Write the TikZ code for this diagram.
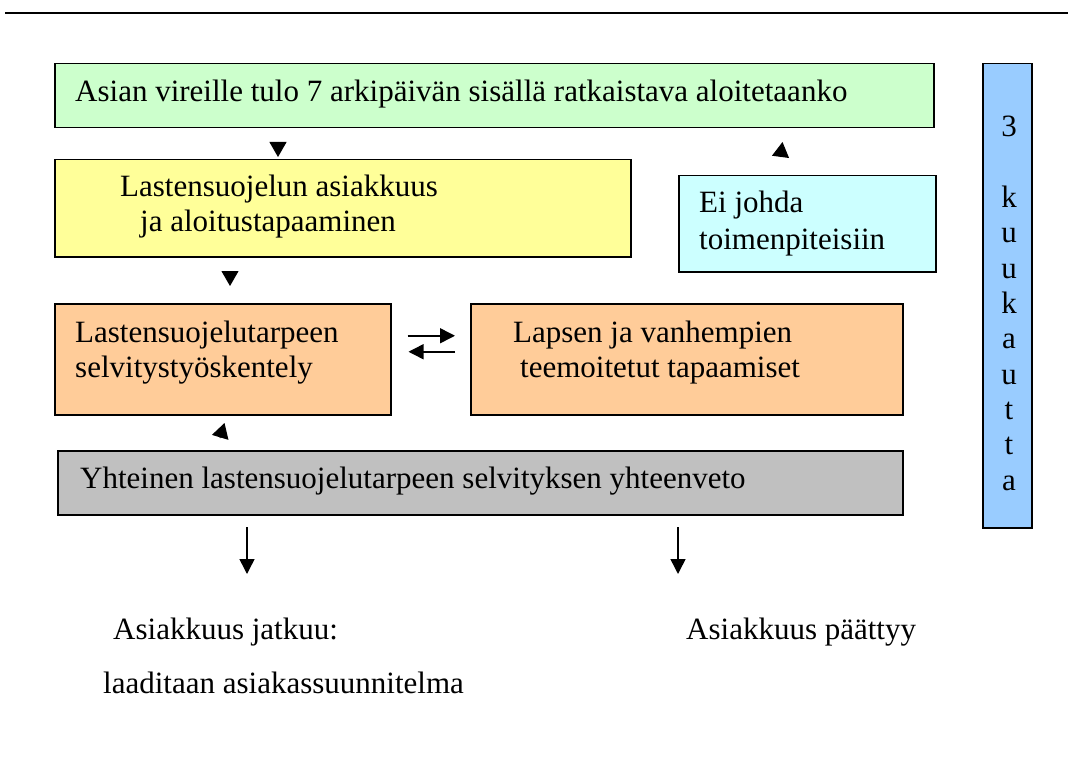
\documentclass[tikz,border=0pt]{standalone}
\usepackage{fontspec}
\setmainfont{Liberation Serif}
\usetikzlibrary{arrows.meta}
\definecolor{boxgreen}{HTML}{CCFFCC}
\definecolor{boxyellow}{HTML}{FFFF99}
\definecolor{boxcyan}{HTML}{CCFFFF}
\definecolor{boxorange}{HTML}{FFCC99}
\definecolor{boxgray}{HTML}{C0C0C0}
\definecolor{boxblue}{HTML}{99CCFF}
\tikzset{
  box/.style={draw, line width=1.5pt, anchor=north west, inner sep=0pt},
  txt/.style={anchor=base west, inner sep=0pt, font=\fontsize{31}{35}\selectfont},
  letter/.style={anchor=base, inner sep=0pt, font=\fontsize{31}{35}\selectfont},
  arr/.style={line width=1.5pt, -{Triangle[length=15pt,width=15pt]}},
  tri/.style={line width=1pt, -{Triangle[length=15pt,width=17pt]}}
}
\begin{document}
\begin{tikzpicture}[x=1pt,y=-1pt]
	\useasboundingbox (0,0) rectangle (1068,778);
	\draw[line width=1.8pt] (5,13) -- (1068,13);
	\node[box, fill=boxgreen, minimum width=879pt, minimum height=64pt] (vireille) at (54,63) {};
	\node[box, fill=boxyellow, minimum width=576pt, minimum height=97pt] (asiakkuus) at (54,159) {};
	\node[box, fill=boxcyan, minimum width=257pt, minimum height=96pt] (eijohda) at (678,175) {};
	\node[box, fill=boxorange, minimum width=336pt, minimum height=111pt] (selvitys) at (54,303) {};
	\node[box, fill=boxorange, minimum width=432pt, minimum height=111pt] (tapaamiset) at (470,303) {};
	\node[box, fill=boxgray, minimum width=845pt, minimum height=64pt] (yhteenveto) at (57,450) {};
	\node[box, fill=boxblue, minimum width=49pt, minimum height=464pt] (kuukautta) at (982,63) {};
	\node[txt] (t1) at (75,102) {Asian vireille tulo 7 arkipäivän sisällä ratkaistava aloitetaanko};
	\node[txt] (t2) at (120,197) {Lastensuojelun asiakkuus};
	\node[txt] (t3) at (140,231) {ja aloitustapaaminen};
	\node[txt] (t4) at (699,213) {Ei johda};
	\node[txt] (t5) at (699,249) {toimenpiteisiin};
	\node[txt] (t6) at (75,342) {Lastensuojelutarpeen};
	\node[txt] (t7) at (75,377) {selvitystyöskentely};
	\node[txt] (t8) at (513,342) {Lapsen ja vanhempien};
	\node[txt] (t9) at (520,377) {teemoitetut tapaamiset};
	\node[txt] (t10) at (80,488) {Yhteinen lastensuojelutarpeen selvityksen yhteenveto};
	\node[txt] (jatkuu) at (113,639) {Asiakkuus jatkuu:};
	\node[txt] (laaditaan) at (103,693) {laaditaan asiakassuunnitelma};
	\node[txt] (paattyy) at (686,639) {Asiakkuus päättyy};
	\foreach \c/\n in {3/0,k/2,u/3,u/4,k/5,a/6,u/7,t/8,t/9,a/10}
		\node[letter] (k\n) at (1009,137+35.3*\n) {\c};
	\coordinate (p1) at (278,142);
	\coordinate (p2) at (780.5,157);
	\coordinate (p3) at (230,271);
	\coordinate (p4) at (220,438);
	\draw[tri] (p1) -- ++(0,15);
	\draw[tri] (p2) -- ++(2,-15);
	\draw[tri] (p3) -- ++(0,15);
	\draw[tri] (p4) -- ++(4.5,-15);
	\draw[arr] ([xshift=16pt,yshift=23.5pt]selvitys.east) -- ([xshift=-15pt,yshift=23.5pt]tapaamiset.west);
	\draw[arr] ([xshift=-15pt,yshift=7.5pt]tapaamiset.west) -- ([xshift=17pt,yshift=7.5pt]selvitys.east);
	\coordinate (d1) at (247,527);
	\coordinate (d2) at (678,527);
	\draw[arr] (d1) -- ++(0,47);
	\draw[arr] (d2) -- ++(0,47);
\end{tikzpicture}
\end{document}
